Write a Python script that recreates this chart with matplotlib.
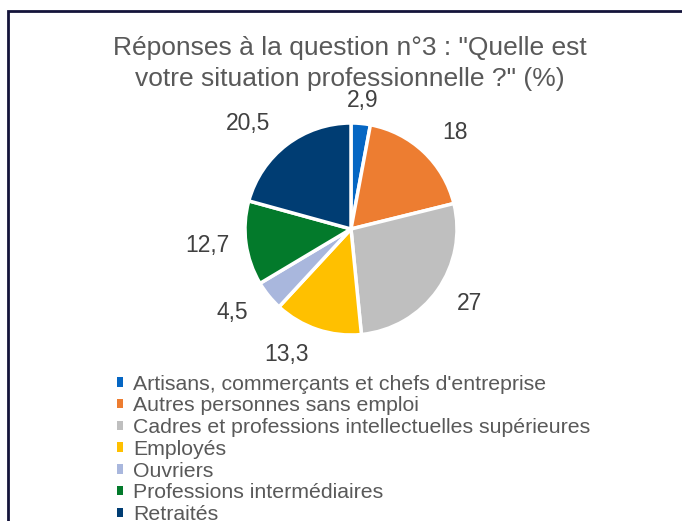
import numpy as np
import matplotlib.pyplot as plt
from matplotlib.patches import Rectangle

plt.rcParams['font.family'] = ['Liberation Sans', 'DejaVu Sans']

# données
categories = ["Artisans, commerçants et chefs d'entreprise",
              "Autres personnes sans emploi",
              "Cadres et professions intellectuelles supérieures",
              "Employés",
              "Ouvriers",
              "Professions intermédiaires",
              "Retraités"]
values = [2.9, 18, 27, 13.3, 4.5, 12.7, 20.5]
colors = ['#0566C3', '#ED7D31', '#BFBFBF', '#FFC000', '#A9B7DD', '#037A2B', '#003D73']

labels = [('%g' % v).replace('.', ',') for v in values]
# distance des étiquettes (en rayons), placement "ajusté" à la Excel
label_dist = [1.22, 1.25, 1.22, 1.25, 1.25, 1.16, 1.25]

W, H = 682, 521
fig = plt.figure(figsize=(W / 100, H / 100), dpi=100)

# cadre
fig.patches.append(Rectangle((8 / W, -0.1), 1.2, 1 - 11 / H + 0.1, transform=fig.transFigure,
                             fill=False, edgecolor='#14143a', linewidth=2))

# titre
fig.text(350 / W, 1 - 36 / H, 'Réponses à la question n°3 : "Quelle est\nvotre situation professionnelle ?" (%)',
         ha='center', va='top', fontsize=19, color='#595959', linespacing=1.36)

# camembert
cx, cy, R = 351, 229, 106
ax = fig.add_axes([(cx - R) / W, 1 - (cy + R) / H, 2 * R / W, 2 * R / H])
wedges, texts = ax.pie(values, labels=labels, colors=colors, startangle=90, counterclock=False,
                       textprops={'fontsize': 16.5, 'color': '#404040'},
                       wedgeprops={'edgecolor': 'white', 'linewidth': 2.5})
for w, t, d in zip(wedges, texts, label_dist):
    a = np.deg2rad((w.theta1 + w.theta2) / 2)
    t.set_position((d * np.cos(a), d * np.sin(a)))
    if abs(np.cos(a)) < 0.2:
        t.set_ha('center')
    else:
        t.set_ha('left' if np.cos(a) > 0 else 'right')
    t.set_va('center')
ax.set_xlim(-1, 1)
ax.set_ylim(-1, 1)

leg = fig.legend(wedges, categories, loc='upper left', bbox_to_anchor=(108 / W, 1 - 366 / H),
                 frameon=False, fontsize=15.3, labelcolor='#595959', handlelength=0.32,
                 handleheight=0.32, handletextpad=0.45, labelspacing=0.13, borderaxespad=0)
for h in leg.legend_handles:
    h.set_edgecolor('none')

fig.savefig('out.png', dpi=100)
